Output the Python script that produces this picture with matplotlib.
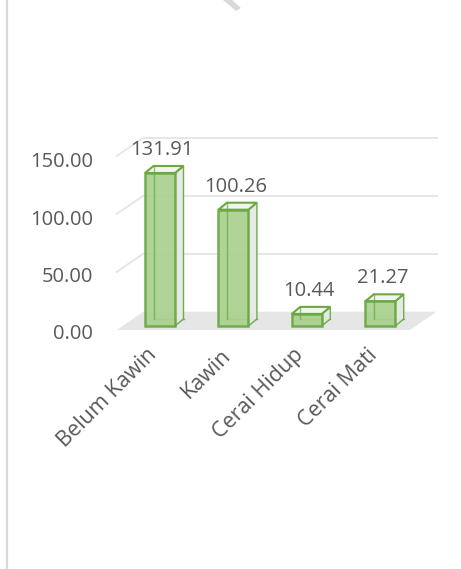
import matplotlib.pyplot as plt
from matplotlib.patches import Polygon, Rectangle
from matplotlib.transforms import ScaledTranslation

categories = ["Belum Kawin", "Kawin", "Cerai Hidup", "Cerai Mati"]
values = [131.91, 100.26, 10.44, 21.27]
yticks = [0, 50, 100, 150]

W, H = 461, 569
# pixel layout of the plot area (top-left origin)
L, R, T, B = 100, 450, 120, 340
X0, DX = 160, 73.4      # px of first bar centre, px per category
Y0, K = 326, 1.16       # px of value 0 at bar front, px per unit

green = "#6aa843"
front_col = "#a9d18e"
side_col = "#e6e9e3"
top_col = "#f2f4ef"
txt = "#595959"

plt.rcParams['font.family'] = ['Open Sans', 'DejaVu Sans']

fig = plt.figure(figsize=(W / 100, H / 100), dpi=100)

def fpx(x, y):
    return (x / W, 1 - y / H)

# outer frame and bit of watermark
fig.patches.append(Rectangle(fpx(7, H + 20), W, H + 20 - 10.7, transform=fig.transFigure,
                             fill=False, ec="#d9d9d9", lw=1.6))
fig.patches.append(Polygon([fpx(223, 0), fpx(232, 0), fpx(241, 8), fpx(236, 11)],
                           closed=True, transform=fig.transFigure, fc="#d9d9d9", ec="none"))

pos = [L / W, 1 - B / H, (R - L) / W, (B - T) / H]
ax = fig.add_axes(pos)
ax.set_xlim((L - X0) / DX, (R - X0) / DX)
ax.set_ylim((Y0 - B) / K, (Y0 - T) / K)
ax.axis('off')

n = len(values)
hw = 15 / DX
ddx, ddy = 8.5 / DX, 7 / K

# floor and walls
f_front = (Y0 - 330) / K
f_left, f_right = (116.7 - X0) / DX, (n - 1) + (410 - X0 - (n - 1) * DX) / DX
fdx, fdy = 26.6 / DX, 18.3 / K
ax.add_patch(Polygon([(f_left, f_front), (f_right, f_front),
                      (f_right + fdx, f_front + fdy), (f_left + fdx, f_front + fdy)],
                     closed=True, fc="#e6e6e6", ec="none", zorder=1))
for t in yticks[1:]:
    yb = f_front + fdy + t
    ax.plot([f_left, f_left + fdx], [f_front + t, yb], color="#e6e6e6", lw=1.4, zorder=0)
    ax.plot([f_left + fdx, f_right + fdx], [yb, yb], color="#e6e6e6", lw=1.4, zorder=0)

# 3d boxes
for i, v in enumerate(values):
    x0, x1 = i - hw, i + hw
    # back edges seen through the front
    ax.plot([x0 + ddx, x0 + ddx, x1 + ddx], [v + ddy, ddy, ddy], color=green, lw=1.0,
            alpha=0.8, zorder=2)
    ax.add_patch(Polygon([(x1, 0), (x1 + ddx, ddy), (x1 + ddx, v + ddy), (x1, v)],
                         closed=True, fc=side_col, ec=green, lw=1.0, alpha=0.95, zorder=2))
    ax.add_patch(Polygon([(x0, v), (x1, v), (x1 + ddx, v + ddy), (x0 + ddx, v + ddy)],
                         closed=True, fc=top_col, ec=green, lw=1.5, zorder=3))
    ax.add_patch(Rectangle((x0, 0), 2 * hw, v, fc=front_col, ec=green, lw=1.8,
                           alpha=0.92, zorder=4))
    ax.plot([x0 + ddx, x0 + ddx], [ddy, v + ddy], color=green, lw=1.0, alpha=0.7, zorder=5)
    ax.text(i + ddx / 4, v + ddy + 11 / K, f"{v:.2f}", ha="center", va="baseline",
            fontsize=14.5, color=txt, zorder=6)

# category labels
off = ScaledTranslation(-6 / 100, -22 / 100, fig.dpi_scale_trans)
for i, c in enumerate(categories):
    ax.text(i, f_front, c, rotation=45, rotation_mode="anchor", ha="right", va="center",
            fontsize=15.5, color=txt, transform=ax.transData + off)

# value axis labels
lab = fig.add_axes(pos, frameon=False)
lab.set_xlim(0, 1)
lab.set_ylim((331.7 - B) / 1.145, (331.7 - T) / 1.145)
lab.set_xticks([])
lab.set_yticks(yticks)
lab.set_yticklabels([f"{t:.2f}" for t in yticks])
lab.tick_params(axis="y", length=0, pad=5, labelsize=14.5, labelcolor=txt)
lab.patch.set_visible(False)

fig.savefig("out.png", dpi=100)
